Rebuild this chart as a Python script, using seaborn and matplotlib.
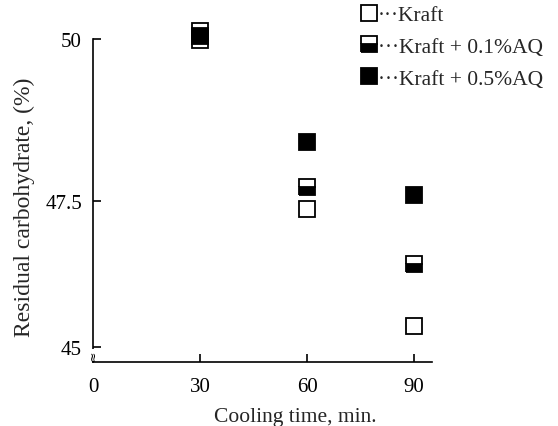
import numpy as np
import pandas as pd
import matplotlib
matplotlib.use("Agg")
import matplotlib.pyplot as plt
import seaborn as sns

# ---- data ----
cooling_time = [30, 60, 90]
kraft = [49.99, 47.36, 45.36]
kraft_01aq = [50.12, 47.72, 46.42]
kraft_05aq = [50.05, 48.41, 47.59]
series_labels = ["···Kraft", "···Kraft + 0.1%AQ", "···Kraft + 0.5%AQ"]
x_ticks = [0, 30, 60, 90]
y_ticks = [45, 47.5, 50]
y_tick_labels = ["45", "47.5", "50"]

sns.set_style("white")
plt.rcParams["font.family"] = ["Liberation Serif", "DejaVu Serif"]

fig = plt.figure(figsize=(5.58, 4.27), dpi=100)
ax = fig.add_axes([93 / 558, 1 - 363 / 427, (432 - 93) / 558, 363 / 427])

# piecewise-linear y scale (as drawn in the original figure)
def fwd(v):
    v = np.asarray(v, dtype=float)
    return np.where(v >= 47.5, (v - 47.5) * 64.8, (v - 47.5) * 58.4)

def inv(p):
    p = np.asarray(p, dtype=float)
    return np.where(p >= 0, 47.5 + p / 64.8, 47.5 + p / 58.4)

ax.set_yscale("function", functions=(fwd, inv))

ms = 11
common = dict(marker="s", linestyle="", markersize=ms, markeredgewidth=1.3,
              markeredgecolor="black", errorbar=None, ax=ax)

df0 = pd.DataFrame({"t": cooling_time, "v": kraft})
df1 = pd.DataFrame({"t": cooling_time, "v": kraft_01aq})
df2 = pd.DataFrame({"t": cooling_time, "v": kraft_05aq})

sns.lineplot(data=df0, x="t", y="v", color="black", markerfacecolor="white",
             label=series_labels[0], **common)
sns.lineplot(data=df1, x="t", y="v", color="black", markerfacecolor="black",
             fillstyle="bottom", markerfacecoloralt="white",
             label=series_labels[1], **common)
sns.lineplot(data=df2, x="t", y="v", color="black", markerfacecolor="black",
             label=series_labels[2], **common)

ax.set_xlim(0, 95)
ax.set_ylim(44.743, 50.617)

for s in ["top", "right"]:
    ax.spines[s].set_visible(False)
for s in ["left", "bottom"]:
    ax.spines[s].set_color("black")
    ax.spines[s].set_linewidth(1.2)
ax.spines["left"].set_bounds(44.743, 50)
ax.spines["bottom"].set_bounds(0, 95)

ax.set_xticks(x_ticks)
ax.set_xticklabels([str(t) for t in x_ticks])
ax.set_yticks(y_ticks)
ax.set_yticklabels(y_tick_labels)
ax.tick_params(axis="both", direction="in", length=6, width=1.2, colors="black",
               labelsize=15, left=True, bottom=True)
ax.tick_params(axis="x", pad=11)
ax.tick_params(axis="y", pad=8)

ax.set_xlabel("Cooling time, min.", fontsize=15.5)
ax.set_ylabel("Residual carbohydrate, (%)", fontsize=17)
ax.xaxis.set_label_coords(0.596, -0.125)
ax.yaxis.set_label_coords(-0.17, 0.43)

# axis break mark
ax.text(0, 44.87, "≈", rotation=90, ha="center", va="center", fontsize=9,
        color="black", family="DejaVu Sans",
        bbox=dict(facecolor="white", edgecolor="none", pad=0.5))

ax.get_legend().remove()
handles, labels = ax.get_legend_handles_labels()
fig.legend(handles, labels, loc="upper left", bbox_to_anchor=(361 / 558, 1 - 6 / 427),
           frameon=False, fontsize=15.5, handlelength=0.75, handletextpad=0.05,
           labelspacing=0.55, borderaxespad=0, borderpad=0)

fig.savefig("out.png", dpi=100)
